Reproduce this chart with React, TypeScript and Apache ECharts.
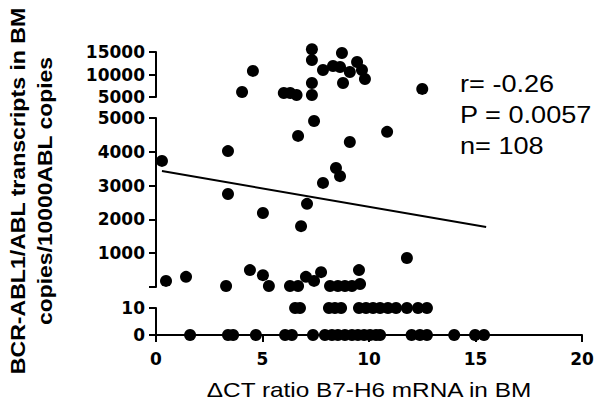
import React, { useEffect, useRef } from "react";
import * as echarts from "echarts";

// Upper segment (5000–15000)
const topX = [4.04, 4.55, 6.0, 6.3, 6.6, 7.32, 7.32, 7.32, 7.32, 7.84, 8.31, 8.64, 8.73, 8.78, 9.1, 9.44, 9.67, 9.81, 12.5];
const topY = [6100, 10800, 5900, 5900, 5450, 15600, 13200, 8100, 5450, 11000, 11900, 11660, 14770, 8100, 10550, 12770, 11000, 9000, 6800];

// Middle segment (0–5000)
const midX = [0.28, 3.38, 3.38, 5.02, 6.67, 6.81, 7.09, 7.42, 7.84, 8.45, 8.64, 9.1, 10.85, 11.78,
  0.47, 1.41, 3.29, 4.41, 5.02, 5.3, 6.29, 6.67, 7.04, 7.42, 7.75, 8.17, 8.54, 8.87, 9.2, 9.53, 9.58];
const midY = [3730, 4020, 2750, 2190, 4470, 1800, 2460, 4910, 3080, 3520, 3280, 4290, 4590, 860,
  180, 300, 30, 500, 350, 30, 30, 30, 300, 180, 440, 30, 30, 30, 30, 500, 90];

// Lower segment (0–10)
const lowTenX = [6.53, 6.76, 8.12, 8.4, 8.69, 9.53, 9.86, 10.19, 10.52, 10.89, 11.27, 11.78, 12.3, 12.72];
const lowZeroX = [1.6, 3.38, 3.62, 4.69, 6.06, 6.38, 7.37, 7.93, 8.26, 8.54, 8.87, 9.2, 9.48, 9.77, 10.05, 10.33, 10.52, 12.0, 12.39, 12.72, 14.0, 14.98, 15.4];

// Regression line (drawn in middle segment)
const fitX = [0.28, 15.5];
const fitY = [3430, 1775];

const topTicks = [5000, 10000, 15000];
const midTicks = [1000, 2000, 3000, 4000, 5000];
const xTicks = [0, 5, 10, 15, 20];

const statsLines = ["r= -0.26", "P = 0.0057", "n= 108"];
const yTitle = ["BCR-ABL1/ABL transcripts in BM", "copies/10000ABL copies"];
const xTitle = "\u0394CT ratio B7-H6 mRNA in BM";

const tickFont = { fontFamily: "DejaVu Sans", fontWeight: "bold" as const, fontSize: 17, color: "#000" };
const lineStyle = { color: "#000", width: 2 };

export default function App() {
  const ref = useRef<HTMLDivElement>(null);
  useEffect(() => {
    if (!ref.current) return;
    const chart = echarts.init(ref.current, undefined, { renderer: "svg" });
    const grids = [
      { left: 156, width: 426, top: 52, height: 45 },
      { left: 156, width: 426, top: 118, height: 169 },
      { left: 156, width: 426, top: 308, height: 27 },
    ];
    const hiddenX = (i: number) => ({
      gridIndex: i, type: "value" as const, min: 0, max: 20, show: false,
    });
    const yBase = {
      type: "value" as const,
      axisLine: { show: true, onZero: false, lineStyle },
      axisTick: { show: true, length: 7, lineStyle },
      splitLine: { show: false },
    };
    const sym = { symbol: "circle", symbolSize: 12, itemStyle: { color: "#000", opacity: 1 }, clip: false };
    chart.setOption({
      animation: false,
      grid: grids,
      xAxis: [
        hiddenX(0),
        hiddenX(1),
        {
          gridIndex: 2, type: "value", min: 0, max: 20, interval: 5,
          axisLine: { show: true, onZero: false, lineStyle },
          axisTick: { show: true, length: 7, lineStyle },
          splitLine: { show: false },
          axisLabel: { ...tickFont, margin: 15, formatter: (v: number) => (xTicks.includes(v) ? String(v) : "") },
        },
      ],
      yAxis: [
        {
          ...yBase, gridIndex: 0, min: 5000, max: 15000, interval: 5000,
          axisLabel: { ...tickFont, margin: 11, formatter: (v: number) => (topTicks.includes(v) ? String(v) : "") },
        },
        {
          ...yBase, gridIndex: 1, min: 0, max: 5000, interval: 1000,
          axisLabel: { ...tickFont, margin: 11, formatter: (v: number) => (midTicks.includes(v) ? String(v) : "") },
        },
        {
          ...yBase, gridIndex: 2, min: 0, max: 10, interval: 10,
          axisLabel: { ...tickFont, margin: 11 },
        },
      ],
      series: [
        { type: "scatter", xAxisIndex: 0, yAxisIndex: 0, ...sym, data: topX.map((x, i) => [x, topY[i]]) },
        { type: "scatter", xAxisIndex: 1, yAxisIndex: 1, ...sym, data: midX.map((x, i) => [x, midY[i]]) },
        { type: "scatter", xAxisIndex: 2, yAxisIndex: 2, ...sym, data: lowTenX.map((x) => [x, 10]) },
        { type: "scatter", xAxisIndex: 2, yAxisIndex: 2, ...sym, data: lowZeroX.map((x) => [x, 0]) },
        {
          type: "line", xAxisIndex: 1, yAxisIndex: 1, symbol: "none", clip: false,
          lineStyle: { color: "#000", width: 2 },
          data: fitX.map((x, i) => [x, fitY[i]]),
        },
      ],
      graphic: [
        {
          type: "text", x: 17.5, y: 191, rotation: Math.PI / 2, scaleX: 1.1,
          style: { text: yTitle[0], fontFamily: "Liberation Sans", fontWeight: "bold", fontSize: 21, fill: "#000", align: "center", verticalAlign: "middle" },
        },
        {
          type: "text", x: 44.5, y: 191, rotation: Math.PI / 2, scaleX: 1.09,
          style: { text: yTitle[1], fontFamily: "Liberation Sans", fontWeight: "bold", fontSize: 21, fill: "#000", align: "center", verticalAlign: "middle" },
        },
        {
          type: "text", x: 369, y: 389.5, scaleX: 1.16,
          style: { text: xTitle, fontFamily: "Liberation Sans", fontSize: 21, fill: "#000", align: "center", verticalAlign: "middle" },
        },
        ...statsLines.map((t, i) => ({
          type: "text", x: 460, y: 83.5 + i * 31, scaleX: 1.13,
          style: { text: t, fontFamily: "Liberation Sans", fontSize: 24, fill: "#000", align: "left", verticalAlign: "middle" },
        })),
      ],
    });
    return () => chart.dispose();
  }, []);
  return <div ref={ref} style={{ width: 600, height: 406, position: "absolute", left: 0, top: 0, background: "#fff" }} />;
}
